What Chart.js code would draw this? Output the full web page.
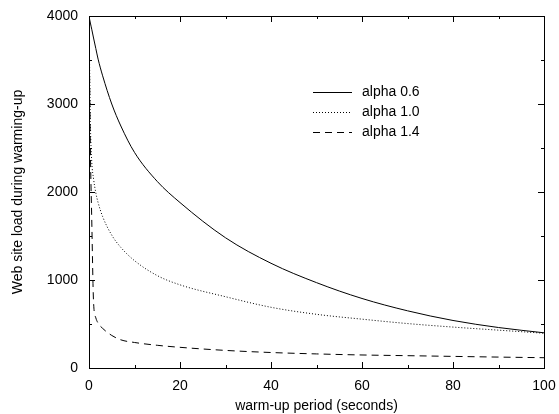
<!DOCTYPE html>
<html>
<head>
<meta charset="utf-8">
<script src="https://cdn.jsdelivr.net/npm/chart.js@4/dist/chart.umd.min.js"></script>
<style>
  html, body { margin: 0; padding: 0; background: #fff; }
  #chart { display: block; }
</style>
</head>
<body>
<canvas id="chart" width="559" height="414"></canvas>
<script>
// ---- data ----
const warmup   = [0, 0.3, 0.6, 1, 1.5, 2, 3, 5, 7, 10, 15, 20, 30, 40, 50, 60, 70, 80, 90, 100];
const alpha06  = [4000, 3920, 3850, 3750, 3630, 3510, 3320, 3000, 2750, 2450, 2120, 1880, 1480, 1190, 970, 790, 650, 540, 460, 400];
const alpha10  = [4000, 2800, 2350, 2150, 1990, 1880, 1720, 1510, 1370, 1220, 1050, 945, 810, 690, 610, 555, 505, 465, 430, 395];
const alpha14  = [4000, 2500, 1700, 750, 570, 510, 450, 370, 320, 290, 258, 235, 200, 176, 160, 148, 140, 132, 124, 117];
const seriesLabels = ['alpha 0.6', 'alpha 1.0', 'alpha 1.4'];
const xTicks = [0, 20, 40, 60, 80, 100];
const yTicks = [0, 1000, 2000, 3000, 4000];

const FONT = '"Liberation Sans", Arial, Helvetica, sans-serif';

function pts(ys) {
  return warmup.map((x, i) => ({ x: x, y: ys[i] }));
}

// gnuplot-style frame with inward ticks, mirrored on all four sides
const framePlugin = {
  id: 'frame',
  afterDraw(chart) {
    const { ctx, chartArea: a, scales } = chart;
    ctx.save();
    ctx.strokeStyle = '#000';
    ctx.lineWidth = 1;
    ctx.strokeRect(a.left + 0.5, a.top + 0.5, a.right - a.left, a.bottom - a.top);

    ctx.beginPath();
    // x ticks
    const xs = scales.x;
    for (let i = 0; i < xTicks.length; i++) {
      const px = Math.round(xs.getPixelForValue(xTicks[i])) + 0.5;
      ctx.moveTo(px, a.bottom); ctx.lineTo(px, a.bottom - 6);
      ctx.moveTo(px, a.top);    ctx.lineTo(px, a.top + 6);
      if (i < xTicks.length - 1) {
        const mx = Math.round(xs.getPixelForValue((xTicks[i] + xTicks[i + 1]) / 2)) + 0.5;
        ctx.moveTo(mx, a.bottom); ctx.lineTo(mx, a.bottom - 3);
        ctx.moveTo(mx, a.top);    ctx.lineTo(mx, a.top + 3);
      }
    }
    // y ticks
    const ys = scales.y;
    for (let i = 0; i < yTicks.length; i++) {
      const py = Math.round(ys.getPixelForValue(yTicks[i])) + 0.5;
      ctx.moveTo(a.left, py);  ctx.lineTo(a.left + 6, py);
      ctx.moveTo(a.right, py); ctx.lineTo(a.right - 6, py);
      if (i < yTicks.length - 1) {
        const my = Math.round(ys.getPixelForValue((yTicks[i] + yTicks[i + 1]) / 2)) + 0.5;
        ctx.moveTo(a.left, my);  ctx.lineTo(a.left + 3, my);
        ctx.moveTo(a.right, my); ctx.lineTo(a.right - 3, my);
      }
    }
    ctx.stroke();
    ctx.restore();
  }
};

// key box in the upper right, like gnuplot's
const keyPlugin = {
  id: 'key',
  afterDraw(chart) {
    const ctx = chart.ctx;
    ctx.save();
    ctx.font = '14px ' + FONT;
    ctx.fillStyle = '#000';
    ctx.textBaseline = 'middle';
    ctx.textAlign = 'left';
    chart.data.datasets.forEach((ds, i) => {
      const y = 92.5 + i * 20;
      ctx.strokeStyle = '#000';
      ctx.lineWidth = 1;
      ctx.setLineDash(ds.borderDash || []);
      ctx.beginPath();
      ctx.moveTo(313, y);
      ctx.lineTo(352, y);
      ctx.stroke();
      ctx.setLineDash([]);
      ctx.fillText(ds.label, 362, y);
    });
    ctx.restore();
  }
};

const lineStyle = {
  borderColor: '#000',
  borderWidth: 1,
  pointRadius: 0,
  cubicInterpolationMode: 'monotone',
  fill: false
};

new Chart(document.getElementById('chart'), {
  type: 'line',
  data: {
    datasets: [
      Object.assign({ label: seriesLabels[0], data: pts(alpha06), borderDash: [] }, lineStyle),
      Object.assign({ label: seriesLabels[1], data: pts(alpha10), borderDash: [1, 2] }, lineStyle),
      Object.assign({ label: seriesLabels[2], data: pts(alpha14), borderDash: [7, 5] }, lineStyle)
    ]
  },
  options: {
    responsive: false,
    animation: false,
    devicePixelRatio: 1,
    layout: { padding: { top: 16, right: 15, left: 0, bottom: 0 } },
    plugins: {
      legend: { display: false },
      tooltip: { enabled: false }
    },
    scales: {
      x: {
        type: 'linear',
        min: 0, max: 100,
        afterBuildTicks: s => { s.ticks = xTicks.map(v => ({ value: v })); },
        afterFit: s => { s.height = 46; s.paddingLeft = 0; s.paddingRight = 0; },
        grid: { display: false, drawTicks: false },
        border: { display: false },
        ticks: { color: '#000', font: { family: FONT, size: 14 }, padding: 10, maxRotation: 0,
                 callback: v => String(v) },
        title: {
          display: true,
          text: 'warm-up period (seconds)',
          color: '#000',
          font: { family: FONT, size: 14 },
          padding: { top: 0, bottom: -1 }
        }
      },
      y: {
        type: 'linear',
        min: 0, max: 4000,
        afterBuildTicks: s => { s.ticks = yTicks.map(v => ({ value: v })); },
        afterFit: s => { s.width = 89; s.paddingTop = 0; s.paddingBottom = 0; },
        grid: { display: false, drawTicks: false },
        border: { display: false },
        ticks: { color: '#000', font: { family: FONT, size: 14 }, padding: 11,
                 callback: v => String(v) },
        title: {
          display: true,
          text: 'Web site load during warming-up',
          color: '#000',
          font: { family: FONT, size: 14 },
          padding: { top: 10, bottom: 0 }
        }
      }
    }
  },
  plugins: [framePlugin, keyPlugin]
});
</script>
</body>
</html>
